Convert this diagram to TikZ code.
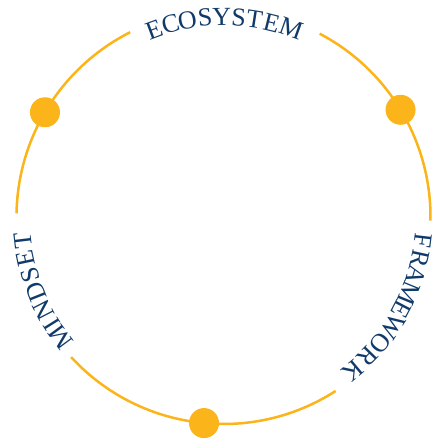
\documentclass[tikz,border=0pt]{standalone}
\usepackage{fontspec}
\setmainfont{Liberation Serif}
\definecolor{ringgold}{HTML}{FBB41A}
\definecolor{wordblue}{HTML}{103A6A}
\tikzset{ring/.style={ringgold,line width=2.5pt},
letter/.style={text=wordblue,font=\fontsize{26}{27}\selectfont,inner sep=0pt}}

\begin{document}
\begin{tikzpicture}[x=1pt,y=1pt]
\useasboundingbox (-223.5,-223) rectangle (210.5,217);
% ring, open where the words sit
\draw[ring] (116.8:207) arc (116.8:179:207);
\draw[ring] (222.6:207) arc (222.6:302.8:207);
\draw[ring] (-1:207) arc (-1:62.3:207);
% dots
\foreach \a [count=\i] in {31.2,149.6,264.6}
\fill[ringgold] (\a:207) circle (15pt) coordinate (dot\i);
% words, clockwise
\foreach \ch/\a [count=\i] in {E/110.3,C/105.4,O/100.4,S/95.3,Y/90.5,S/85.6,T/81.1,E/76.1,M/70.2}
\node[letter,rotate=\a-90] (eco\i) at (\a:200) {\ch};
\foreach \ch/\a [count=\i] in {F/-6.8,R/-12.1,A/-16.9,M/-22.3,E/-27.5,W/-32.8,O/-38.8,R/-44.2,K/-50.0}
\node[letter,rotate=\a-90] (frame\i) at (\a:201) {\ch};
\foreach \ch/\a [count=\i] in {M/216.4,I/212.0,N/207.3,D/201.7,S/196.7,E/191.9,T/186.8}
\node[letter,rotate=\a-90] (mind\i) at (\a:202) {\ch};
\end{tikzpicture}
\end{document}
